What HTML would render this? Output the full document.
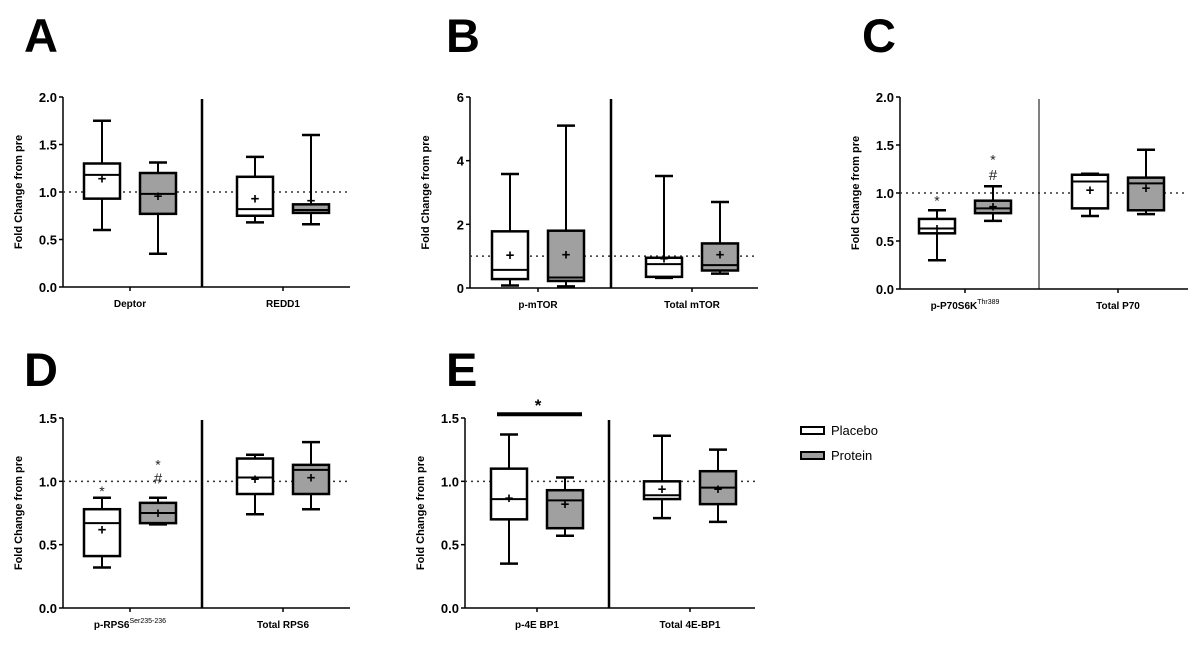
<!DOCTYPE html>
<html><head><meta charset="utf-8"><style>
body{margin:0;background:#fff;width:1200px;height:652px;overflow:hidden}
svg{display:block}
text{font-family:"Liberation Sans",sans-serif}
</style></head><body>
<svg id="fig" width="1200" height="652"></svg>
<script>
// ---- Panel A ----
const catsA=["Deptor","REDD1"];
const placeboA=[[0.60,0.93,1.18,1.30,1.75,1.14],[0.68,0.75,0.82,1.16,1.37,0.93]]; // min,q1,med,q3,max,mean
const proteinA=[[0.35,0.77,0.98,1.20,1.31,0.96],[0.66,0.78,0.81,0.87,1.60,0.91]];
const ticksA=["0.0","0.5","1.0","1.5","2.0"];
// ---- Panel B ----
const catsB=["p-mTOR","Total mTOR"];
const placeboB=[[0.08,0.28,0.57,1.78,3.58,1.04],[0.32,0.35,0.75,0.95,3.52,0.92]];
const proteinB=[[0.05,0.22,0.33,1.80,5.10,1.05],[0.45,0.55,0.72,1.40,2.70,1.05]];
const ticksB=["0","2","4","6"];
// ---- Panel C ----
const catsC=["p-P70S6K","Total P70"];
const placeboC=[[0.30,0.58,0.63,0.73,0.82,0.63],[0.76,0.84,1.12,1.19,1.20,1.03]];
const proteinC=[[0.71,0.79,0.84,0.92,1.07,0.86],[0.78,0.82,1.10,1.16,1.45,1.05]];
const ticksC=["0.0","0.5","1.0","1.5","2.0"];
// ---- Panel D ----
const catsD=["p-RPS6","Total RPS6"];
const placeboD=[[0.32,0.41,0.67,0.78,0.87,0.62],[0.74,0.90,1.03,1.18,1.21,1.02]];
const proteinD=[[0.66,0.67,0.75,0.83,0.87,0.75],[0.78,0.90,1.09,1.13,1.31,1.03]];
const ticksD=["0.0","0.5","1.0","1.5"];
// ---- Panel E ----
const catsE=["p-4E BP1","Total 4E-BP1"];
const placeboE=[[0.35,0.70,0.86,1.10,1.37,0.87],[0.71,0.86,0.89,1.00,1.36,0.94]];
const proteinE=[[0.57,0.63,0.85,0.93,1.03,0.82],[0.68,0.82,0.95,1.08,1.25,0.94]];
const ticksE=["0.0","0.5","1.0","1.5"];

const NS="http://www.w3.org/2000/svg";
const svg=document.getElementById('fig');
function el(tag,attrs,parent,txt){const e=document.createElementNS(NS,tag);for(const k in attrs)e.setAttribute(k,attrs[k]);if(txt!==undefined)e.textContent=txt;(parent||svg).appendChild(e);return e;}

function panel(cfg){
  const g=el('g',{});
  
  
  const max=parseFloat(cfg.ticks[cfg.ticks.length-1]);
  const y=v=>cfg.y0-(v/max)*(cfg.y0-cfg.yTop);
  const lt=el('text',{x:cfg.lx,y:cfg.ly,'font-size':47,'font-weight':'bold'},g,cfg.id);
  
  
  const ya=el('line',{x1:cfg.ax,y1:cfg.yTop,x2:cfg.ax,y2:cfg.y0,stroke:'#000','stroke-width':1.5},g);
  
  
  cfg.ticks.forEach(t=>{
    const v=parseFloat(t);
    el('line',{x1:cfg.ax-4,y1:y(v),x2:cfg.ax,y2:y(v),stroke:'#000','stroke-width':1.5},g);
    const tl=el('text',{x:cfg.ax-6,y:y(v)+5,'font-size':13,'font-weight':'bold','text-anchor':'end'},g,t);
    
    
  });
  const yt=el('text',{transform:`translate(${cfg.ax-41},${(cfg.y0+cfg.yTop)/2}) rotate(-90)`,'font-size':11,'font-weight':'bold','text-anchor':'middle'},g,'Fold Change from pre');
  
  
  const xa=el('line',{x1:cfg.ax,y1:cfg.y0,x2:cfg.xEnd,y2:cfg.y0,stroke:'#000','stroke-width':1.5},g);
  
  
  const rl=el('line',{x1:cfg.ax,y1:y(1),x2:cfg.xEnd,y2:y(1),stroke:'#333','stroke-width':1.5,'stroke-dasharray':'2,4'},g);
  
  
  const dv=el('line',{x1:cfg.div,y1:cfg.yTop+2,x2:cfg.div,y2:cfg.y0,stroke:'#000','stroke-width':cfg.divW},g);
  
  
  cfg.cats.forEach((c,i)=>{
    const tx=cfg.tx[i];
    el('line',{x1:tx,y1:cfg.y0,x2:tx,y2:cfg.y0+4,stroke:'#000','stroke-width':1.5},g);
    const cl=el('text',{x:tx,y:cfg.y0+20,'font-size':10,'font-weight':'bold','text-anchor':'middle'},g,c);
    
    
    if(cfg.sup&&i===0){el('tspan',{'font-size':7,dy:-5,'font-weight':'normal'},cl,cfg.sup);}
    [[cfg.pl[i],'#fff',-28,'placebo'],[cfg.pr[i],'#a0a0a0',28,'protein']].forEach(([d,fill,off,nm])=>{
      const cx=tx+off, w=36;
      const bg=el('g',{},g);
      
      
      el('line',{x1:cx,y1:y(d[0]),x2:cx,y2:y(d[4]),stroke:'#000','stroke-width':2},bg);
      el('line',{x1:cx-9,y1:y(d[0]),x2:cx+9,y2:y(d[0]),stroke:'#000','stroke-width':2.5},bg);
      el('line',{x1:cx-9,y1:y(d[4]),x2:cx+9,y2:y(d[4]),stroke:'#000','stroke-width':2.5},bg);
      el('rect',{x:cx-w/2,y:y(d[3]),width:w,height:y(d[1])-y(d[3]),fill:fill,stroke:'#000','stroke-width':2.5},bg);
      el('line',{x1:cx-w/2,y1:y(d[2]),x2:cx+w/2,y2:y(d[2]),stroke:'#000','stroke-width':2},bg);
      el('text',{x:cx,y:y(d[5])+5,'font-size':15,'font-weight':'bold','text-anchor':'middle'},bg,'+');
    });
  });
  (cfg.marks||[]).forEach(m=>{
    const t=el('text',{x:cfg.tx[m[0]]+m[1],y:y(m[2])+6,'font-size':m[3]==='#'?15:14,'text-anchor':'middle',fill:'#222'},g,m[3]);
    
    
  });
  return {g,y};
}
panel({id:'A',lx:24,ly:52,ax:63,yTop:97,y0:287,xEnd:350,div:202,divW:2.5,tx:[130,283],cats:catsA,pl:placeboA,pr:proteinA,ticks:ticksA});
panel({id:'B',lx:446,ly:52,ax:470,yTop:97,y0:288,xEnd:758,div:611,divW:2.5,tx:[538,692],cats:catsB,pl:placeboB,pr:proteinB,ticks:ticksB});
panel({id:'C',lx:862,ly:52,ax:900,yTop:97,y0:289,xEnd:1188,div:1039,divW:1,tx:[965,1118],cats:catsC,pl:placeboC,pr:proteinC,ticks:ticksC,sup:'Thr389',
  marks:[[0,-28,0.93,'*'],[0,28,1.36,'*'],[0,28,1.2,'#']]});
panel({id:'D',lx:24,ly:386,ax:63,yTop:418,y0:608,xEnd:350,div:202,divW:2.5,tx:[130,283],cats:catsD,pl:placeboD,pr:proteinD,ticks:ticksD,sup:'Ser235-236',
  marks:[[0,-28,0.93,'*'],[0,28,1.14,'*'],[0,28,1.03,'#']]});
const pe=panel({id:'E',lx:446,ly:386,ax:465,yTop:418,y0:608,xEnd:755,div:609,divW:2.5,tx:[537,690],cats:catsE,pl:placeboE,pr:proteinE,ticks:ticksE});
const sb=el('line',{x1:497,y1:pe.y(1.53),x2:582,y2:pe.y(1.53),stroke:'#000','stroke-width':4});


const ss=el('text',{x:538,y:pe.y(1.53)-3,'font-size':17,'font-weight':'bold','text-anchor':'middle'},svg,'*');


[['Placebo','#fff',430],['Protein','#a0a0a0',455]].forEach(([n,f,ly])=>{
  const lg=el('g',{});
  
  
  el('rect',{x:801,y:ly-3,width:23,height:7,fill:f,stroke:'#000','stroke-width':2},lg);
  el('text',{x:831,y:ly+5,'font-size':13},lg,n);
});
</script>
</body></html>
